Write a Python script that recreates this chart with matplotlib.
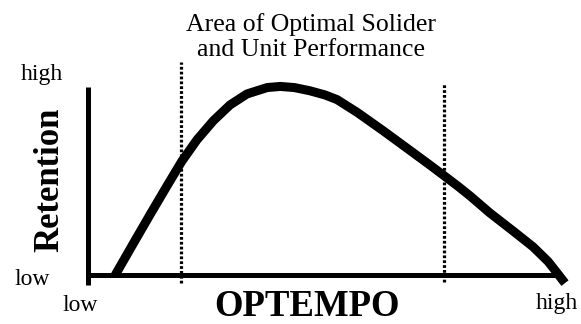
import matplotlib.pyplot as plt

plt.rcParams['font.family'] = ['Liberation Serif', 'DejaVu Serif']
plt.rcParams['lines.scale_dashes'] = False

# Data: retention as a function of OPTEMPO (0 = low, 1 = high)
optempo = [0.058, 0.096, 0.132, 0.168, 0.200, 0.232, 0.267, 0.303, 0.339, 0.382,
           0.410, 0.440, 0.473, 0.505, 0.531, 0.574, 0.629, 0.687, 0.729, 0.761,
           0.790, 0.815, 0.857, 0.906, 0.949, 0.981, 1.000, 1.017]
retention = [0.0, 0.165, 0.320, 0.472, 0.605, 0.718, 0.820, 0.905, 0.963, 0.997,
             1.003, 0.997, 0.980, 0.958, 0.933, 0.865, 0.768, 0.662, 0.585, 0.525,
             0.470, 0.420, 0.330, 0.235, 0.150, 0.072, 0.012, -0.043]

# optimal performance zone boundaries
zone_x = [0.198, 0.759]
zone_top = [1.133, 1.021]
zone_bottom = [-0.043, -0.037]

fig = plt.figure(figsize=(5.81, 3.24), dpi=100)
W, H = 581, 324
ax = fig.add_axes([88 / W, (H - 285) / H, (557 - 88) / W, (285 - 87) / H])
ax.set_xlim(0, 1)
ax.set_ylim(-0.053, 1)
ax.axis('off')

# axes lines
ax.plot([0, 0], [-0.053, 1], color='black', lw=3.6, solid_capstyle='butt', clip_on=False)
ax.axhline(0, xmin=0, xmax=1, color='black', lw=3.6, solid_capstyle='butt', clip_on=False)

# curve
ax.plot(optempo, retention, color='black', lw=6.5, solid_joinstyle='round',
        solid_capstyle='butt', clip_on=False)

# dotted boundaries
for x, top, bot in zip(zone_x, zone_top, zone_bottom):
    ax.plot([x, x], [bot, top], color='black', lw=2.3, linestyle=(0, (2.0, 1.5)),
            clip_on=False)

# texts
fig.text(311 / W, 1 - 37 / H, 'Area of Optimal Solider\nand Unit Performance',
         ha='center', va='center', fontsize=18.5, linespacing=1.2)
fig.text(42 / W, 1 - 80 / H, 'high', ha='center', va='baseline', fontsize=17)
fig.text(32 / W, 1 - 285 / H, 'low', ha='center', va='baseline', fontsize=17)
fig.text(80 / W, 1 - 311 / H, 'low', ha='center', va='baseline', fontsize=17)
fig.text(557 / W, 1 - 309 / H, 'high', ha='center', va='baseline', fontsize=17)
fig.text(307 / W, 1 - 316 / H, 'OPTEMPO', ha='center', va='baseline',
         fontsize=26.5, fontweight='bold')
fig.text(50 / W, 1 - 180 / H, 'Retention', ha='center', va='center', rotation=90,
         fontsize=25, fontweight='bold')

fig.savefig('out.png', dpi=100)
